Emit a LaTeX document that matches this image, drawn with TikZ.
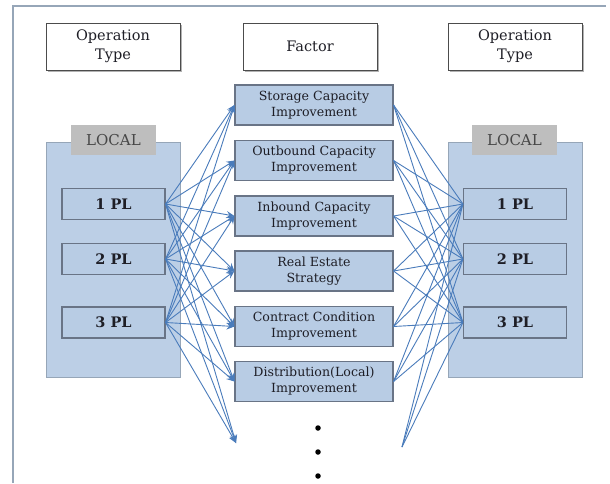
\documentclass[tikz,border=0pt]{standalone}
\usepackage{fontspec}
\setmainfont{DejaVu Serif}
\usetikzlibrary{arrows.meta,shadows}
\definecolor{frameblue}{RGB}{150,166,184}
\definecolor{panelblue}{RGB}{188,207,230}
\definecolor{boxblue}{RGB}{184,204,228}
\definecolor{boxedge}{RGB}{105,116,134}
\definecolor{tabgray}{RGB}{190,190,190}
\definecolor{linkblue}{RGB}{74,124,187}
\definecolor{textdark}{RGB}{30,30,38}
\begin{document}
\begin{tikzpicture}[x=1pt,y=-1pt,
  header/.style={draw=black!70, line width=1pt, fill=white, minimum width=134pt,
    minimum height=47pt, inner sep=0pt, align=center,
    font=\fontsize{14.5}{19}\selectfont, text=textdark,
    drop shadow={shadow xshift=2pt, shadow yshift=-2pt, opacity=0.6, fill=gray}},
  panel/.style={fill=panelblue, draw=panelblue!80!black, line width=0.7pt,
    minimum width=134pt, minimum height=235pt, inner sep=0pt},
  tab/.style={fill=tabgray, minimum width=85pt, minimum height=30pt, inner sep=0pt,
    font=\fontsize{15}{17}\selectfont, text=black!72},
  plbox/.style={draw=boxedge, fill=boxblue, line width=1.1pt, minimum width=103pt,
    minimum height=31pt, inner sep=0pt, font=\fontsize{14.5}{17}\selectfont\bfseries,
    text=textdark},
  factor/.style={draw=boxedge, fill=boxblue, line width=1.1pt, minimum width=158pt,
    minimum height=40pt, inner sep=0pt, align=center,
    font=\fontsize{12.6}{16}\selectfont, text=textdark},
  link/.style={draw=linkblue, line width=0.9pt},
  arrowlink/.style={link, -{Stealth[length=8pt,width=7pt,inset=3pt]}},
  dot/.style={circle, fill=black, inner sep=0pt, minimum size=5.5pt},
]
\useasboundingbox (0,0) rectangle (610,483);
\fill[white] (0,0) rectangle (610,483);

% outer frame (top and left edges)
\draw[frameblue, line width=1.5pt] (13,483) -- (13,6) -- (606,6);

% column headings
\node[header] (hleft)   at (113,46.5) {Operation\\Type};
\node[header] (hfactor) at (310,46.5) {Factor};
\node[header] (hright)  at (515,46.5) {Operation\\Type};

% LOCAL panels
\node[panel] (lpanel) at (113,259.5) {};
\node[panel] (rpanel) at (515,259.5) {};
\node[tab] (ltab) at (113.5,140) {LOCAL};
\node[tab] (rtab) at (514.5,140) {LOCAL};

% party-logistics boxes
\node[plbox] (lp1) at (113.5,204) {1 PL};
\node[plbox] (lp2) at (113.5,259) {2 PL};
\node[plbox] (lp3) at (113.5,322.5) {3 PL};
\node[plbox] (rp1) at (515,204) {1 PL};
\node[plbox] (rp2) at (515,259) {2 PL};
\node[plbox] (rp3) at (515,322.5) {3 PL};

% factors
\node[factor] (f1) at (314,105)   {Storage Capacity\\Improvement};
\node[factor] (f2) at (314,160.5) {Outbound Capacity\\Improvement};
\node[factor] (f3) at (314,216)   {Inbound Capacity\\Improvement};
\node[factor] (f4) at (314,271)   {Real Estate\\Strategy};
\node[factor] (f5) at (314,326.5) {Contract Condition\\Improvement};
\node[factor] (f6) at (314,381.5) {Distribution(Local)\\Improvement};

% open ends toward further factors
\coordinate (lend) at (236,443);
\coordinate (rend) at (402,447);

% connections
\foreach \p in {1,2,3}{
  \foreach \f in {1,...,6}{
    \draw[arrowlink] (lp\p.east) -- (f\f.west);
    \draw[link] (f\f.east) -- (rp\p.west);
  }
  \draw[arrowlink] (lp\p.east) -- (lend);
  \draw[link] (rend) -- (rp\p.west);
}

% continuation dots
\node[dot] (d1) at (318,428) {};
\node[dot] (d2) at (318,452) {};
\node[dot] (d3) at (318,476) {};
\end{tikzpicture}
\end{document}
